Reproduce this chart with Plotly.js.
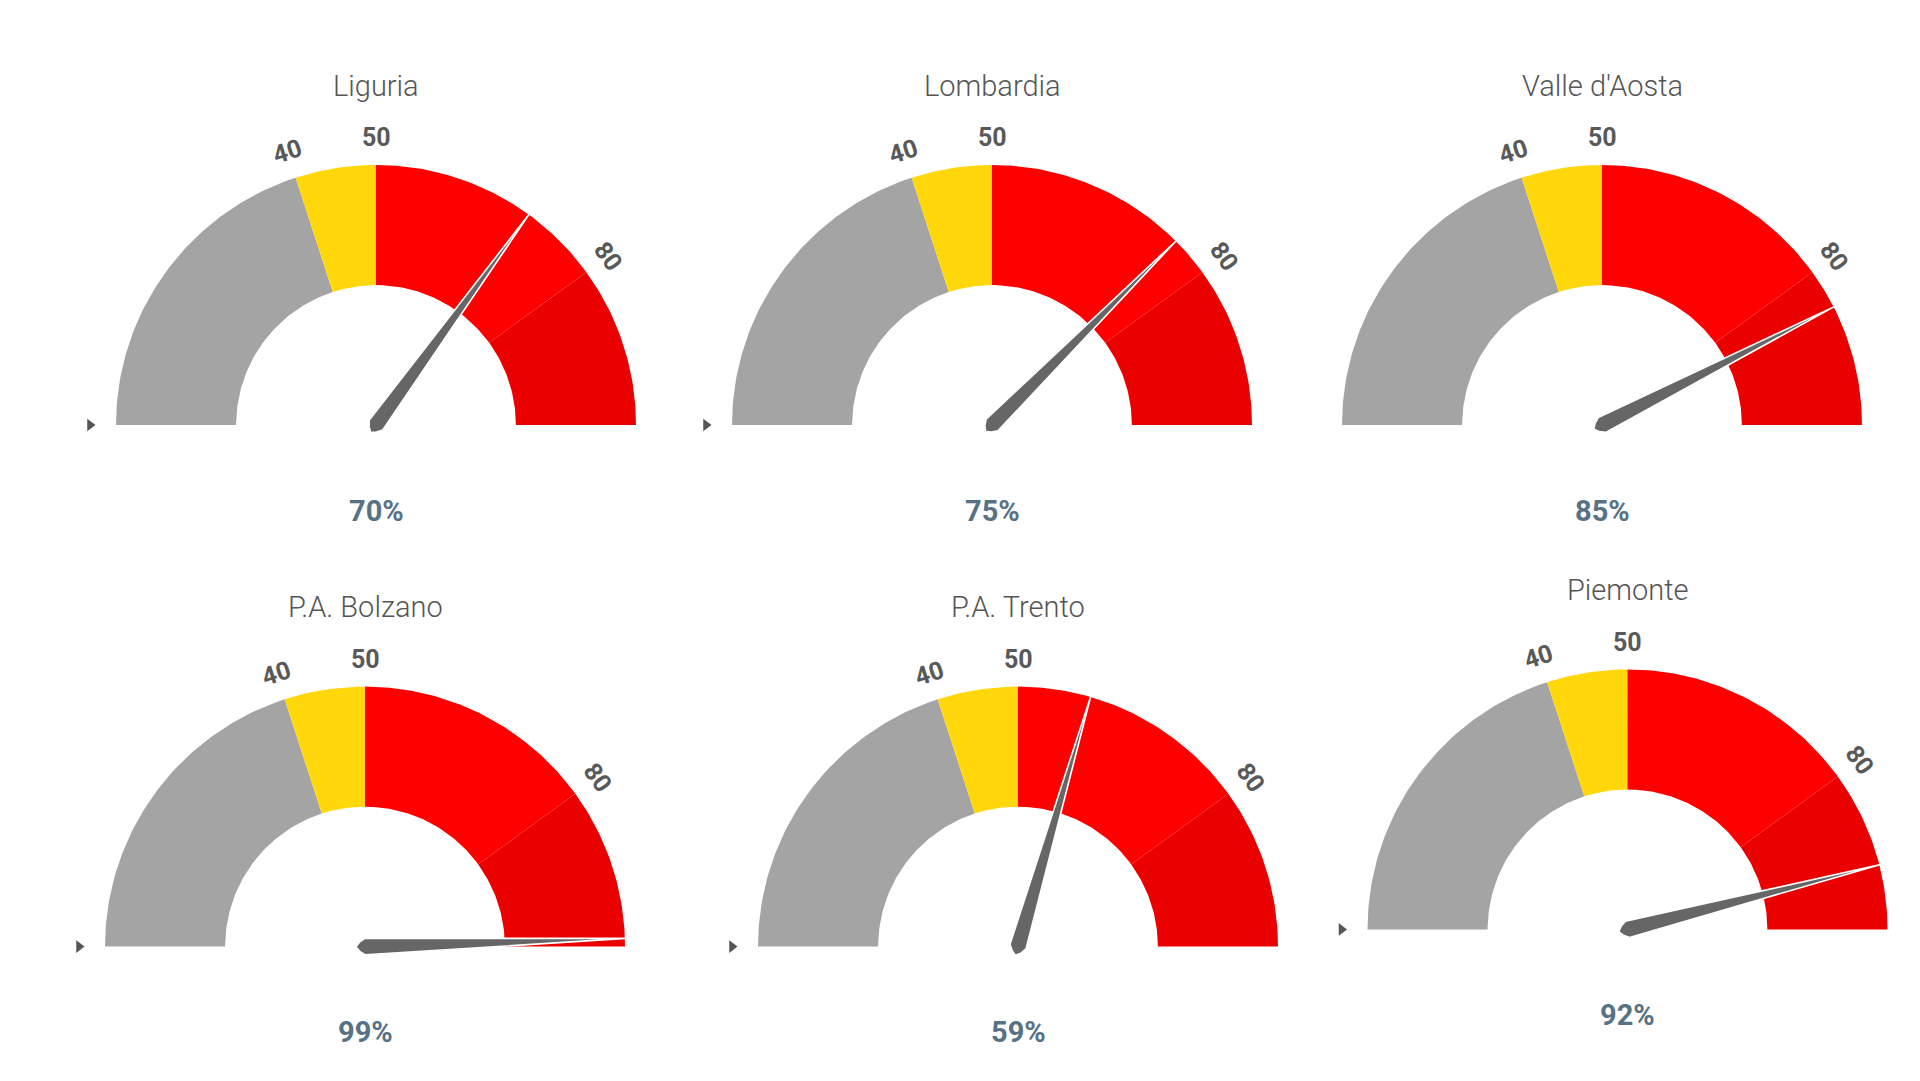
<!DOCTYPE html>
<html>
<head>
<meta charset="utf-8">
<script src="https://cdn.plot.ly/plotly-3.0.1.min.js"></script>
<style>html,body{margin:0;padding:0;background:#fff;}#chart{width:1920px;height:1081px;}</style>
</head>
<body>
<div id="chart"></div>
<script>
// ---- data ----
const regions = ['Liguria', 'Lombardia', "Valle d'Aosta", 'P.A. Bolzano', 'P.A. Trento', 'Piemonte'];
const values = [70, 75, 85, 99, 59, 92];
const bandEdges = [0, 40, 50, 80, 100];
const tickValues = [40, 50, 80];
const gaugeMin = 0;
const gaugeMax = 100;

// ---- styles / layout (not data) ----
const bandColors = ['#a4a4a4', '#ffd70a', '#ff0000', '#eb0000'];
const W = 1920, H = 1081, R = 260, INNER = 0.538;
const panels = [
  {cx: 376, cy: 425, marker: true},
  {cx: 992, cy: 425, marker: true},
  {cx: 1602, cy: 425, marker: false},
  {cx: 365, cy: 946.6, marker: true},
  {cx: 1018, cy: 946.6, marker: true},
  {cx: 1627.5, cy: 929.4, marker: true}
];
const XL = 1.2, XR = 1.06, YB = 0.45, YT = 1.4;

function ang(v) { return Math.PI * (1 - (v - gaugeMin) / (gaugeMax - gaugeMin)); }

function bandPath(v0, v1) {
  const xs = [], ys = [];
  const n = Math.max(8, Math.ceil((v1 - v0) * 2));
  for (let i = 0; i <= n; i++) {
    const a = ang(v0 + (v1 - v0) * i / n);
    xs.push(Math.cos(a)); ys.push(Math.sin(a));
  }
  for (let i = n; i >= 0; i--) {
    const a = ang(v0 + (v1 - v0) * i / n);
    xs.push(INNER * Math.cos(a)); ys.push(INNER * Math.sin(a));
  }
  return {xs, ys};
}

function needlePath(v) {
  const a = ang(v);
  const ux = Math.cos(a), uy = Math.sin(a);   // along needle
  const px = -uy, py = ux;                      // perpendicular
  const w = 0.032, tail = 0.035;
  const pts = [
    [1.005, 0],
    [0, w],
    [-tail * 0.6, w * 0.55],
    [-tail, 0],
    [-tail * 0.6, -w * 0.55],
    [0, -w]
  ];
  const xs = [], ys = [];
  pts.forEach(([r, o]) => { xs.push(r * ux + o * px); ys.push(r * uy + o * py); });
  xs.push(xs[0]); ys.push(ys[0]);
  return {xs, ys};
}

const traces = [];
const annotations = [];
const layout = {
  width: W, height: H,
  margin: {l: 0, r: 0, t: 0, b: 0},
  paper_bgcolor: '#ffffff', plot_bgcolor: 'rgba(0,0,0,0)',
  showlegend: false,
  hovermode: false,
  annotations: annotations
};

const fontFam = "Roboto, 'Open Sans', sans-serif";

regions.forEach((name, i) => {
  const p = panels[i];
  const sfx = i === 0 ? '' : String(i + 1);
  const xa = 'x' + sfx, ya = 'y' + sfx;
  layout['xaxis' + sfx] = {
    domain: [(p.cx - XL * R) / W, (p.cx + XR * R) / W],
    range: [-XL, XR], visible: false, fixedrange: true, anchor: ya
  };
  layout['yaxis' + sfx] = {
    domain: [1 - (p.cy + YB * R) / H, 1 - (p.cy - YT * R) / H],
    range: [-YB, YT], visible: false, fixedrange: true, anchor: xa
  };

  // bands
  for (let b = 0; b < bandEdges.length - 1; b++) {
    const path = bandPath(bandEdges[b], bandEdges[b + 1]);
    traces.push({
      type: 'scatter', mode: 'lines', x: path.xs, y: path.ys,
      fill: 'toself', fillcolor: bandColors[b],
      line: {width: 0, color: bandColors[b]},
      xaxis: xa, yaxis: ya, hoverinfo: 'skip'
    });
  }
  // needle
  const nd = needlePath(values[i]);
  traces.push({
    type: 'scatter', mode: 'lines', x: nd.xs, y: nd.ys,
    fill: 'toself', fillcolor: '#666666',
    line: {width: 1.6, color: '#ffffff'},
    xaxis: xa, yaxis: ya, hoverinfo: 'skip', cliponaxis: false
  });
  // small triangle marker
  if (p.marker) {
    traces.push({
      type: 'scatter', mode: 'markers', x: [-1.1], y: [0.0],
      marker: {symbol: 'triangle-right', size: 11, color: '#555555'},
      xaxis: xa, yaxis: ya, hoverinfo: 'skip', cliponaxis: false
    });
  }

  // title
  annotations.push({
    xref: xa, yref: ya, x: 0, y: 1.305, text: name, showarrow: false,
    xanchor: 'center', yanchor: 'middle',
    font: {family: fontFam, size: 29, color: '#555555', weight: 300}
  });
  // tick labels
  tickValues.forEach(t => {
    const a = ang(t);
    annotations.push({
      xref: xa, yref: ya, x: 1.105 * Math.cos(a), y: 1.105 * Math.sin(a),
      text: String(t), showarrow: false, xanchor: 'center', yanchor: 'middle',
      textangle: (t - (gaugeMin + gaugeMax) / 2) * 180 / (gaugeMax - gaugeMin),
      font: {family: fontFam, size: 25, color: '#595959', weight: 700}
    });
  });
  // value
  annotations.push({
    xref: xa, yref: ya, x: 0, y: -0.33, text: values[i] + '%', showarrow: false,
    xanchor: 'center', yanchor: 'middle',
    font: {family: fontFam, size: 29, color: '#587285', weight: 700}
  });
});

Plotly.newPlot('chart', traces, layout, {displayModeBar: false, staticPlot: true});
</script>
</body>
</html>
